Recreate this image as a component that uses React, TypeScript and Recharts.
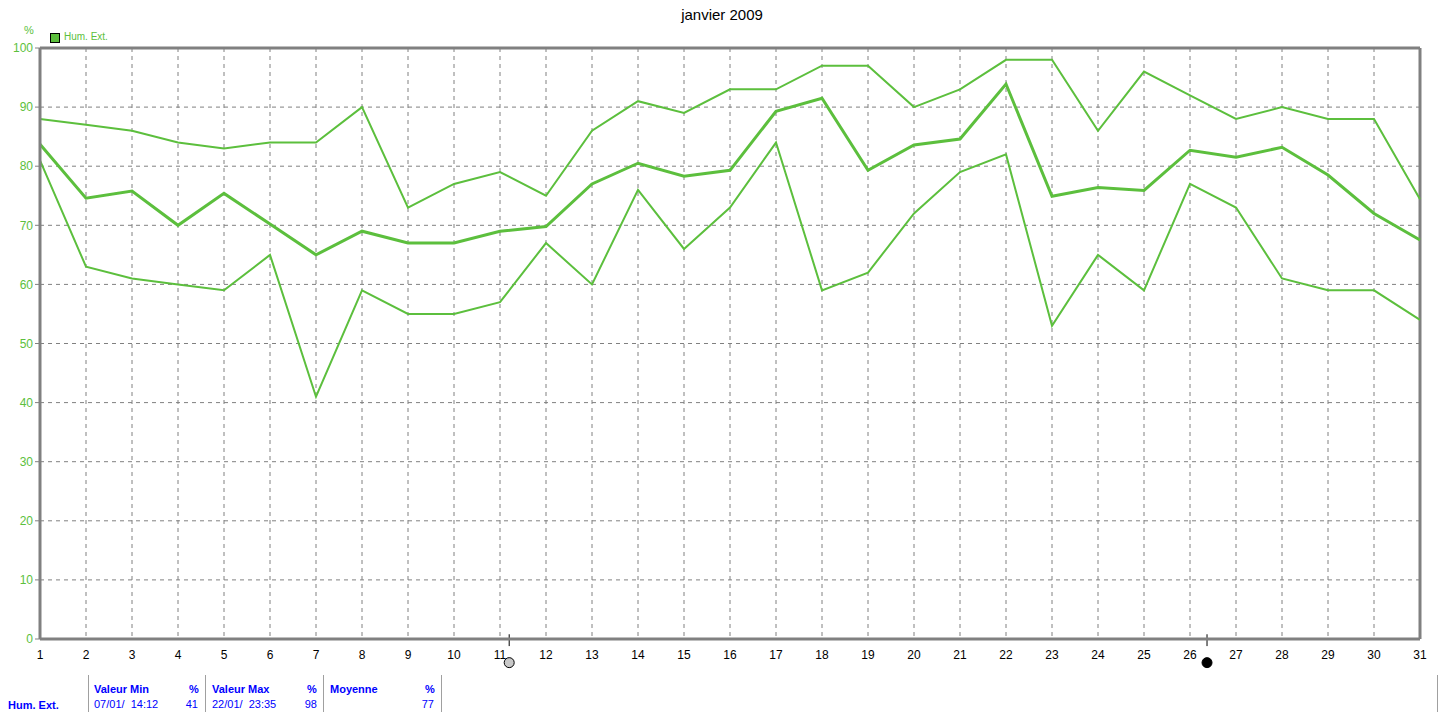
import { LineChart, Line, XAxis, YAxis, CartesianGrid, ReferenceLine, ReferenceDot } from 'recharts';

const days = [1, 2, 3, 4, 5, 6, 7, 8, 9, 10, 11, 12, 13, 14, 15, 16, 17, 18, 19, 20, 21, 22, 23, 24, 25, 26, 27, 28, 29, 30, 31];
const humMax = [88, 87, 86, 84, 83, 84, 84, 90, 73, 77, 79, 75, 86, 91, 89, 93, 93, 97, 97, 90, 93, 98, 98, 86, 96, 92, 88, 90, 88, 88, 74.4];
const humAvg = [83.7, 74.6, 75.8, 70, 75.4, 70.2, 65, 69, 67, 67, 69, 69.8, 77, 80.5, 78.3, 79.3, 89.3, 91.5, 79.3, 83.6, 84.6, 93.9, 74.9, 76.4, 75.9, 82.7, 81.5, 83.2, 78.5, 72, 67.5];
const humMin = [81, 63, 61, 60, 59, 65, 41, 59, 55, 55, 57, 67, 60, 76, 66, 73, 84, 59, 62, 72, 79, 82, 53, 65, 59, 77, 73, 61, 59, 59, 54];
const yTicks = [0, 10, 20, 30, 40, 50, 60, 70, 80, 90, 100];
const cursors = [11.2, 26.37];

const data = days.map((d, i) => ({ day: d, max: humMax[i], avg: humAvg[i], min: humMin[i] }));

const GREEN = '#5cbf3d';
const GRAY = '#808080';
const BLUE = '#0000ff';
const font = '"Liberation Sans", Arial, sans-serif';

const txt = (x: number, y: number, s: string, extra: any = {}) => (
  <div style={{ position: 'absolute', left: x, top: y, fontSize: 11, whiteSpace: 'pre', ...extra }}>{s}</div>
);

export default function App() {
  return (
    <div style={{ position: 'fixed', left: 0, top: 0, width: 1440, height: 712, background: '#fff', fontFamily: font, overflow: 'hidden' }}>
      {txt(0, 6, 'janvier 2009', { width: 1444, textAlign: 'center', fontSize: 15, color: '#000' })}
      {txt(24, 24, '%', { color: GREEN })}
      <div style={{ position: 'absolute', left: 50, top: 33, width: 8, height: 8, background: GREEN, border: '1px solid #000' }} />
      {txt(64, 31, 'Hum. Ext.', { color: GREEN, fontSize: 10 })}

      <LineChart width={1440} height={712} data={data} margin={{ top: 48, right: 20, left: 0, bottom: 53 }}
        style={{ position: 'absolute', left: 0, top: 0 }}>
        <CartesianGrid stroke={GRAY} strokeDasharray="4 4" horizontalValues={yTicks} verticalValues={days} />
        <XAxis dataKey="day" type="number" domain={[1, 31]} ticks={days} interval={0} height={20}
          axisLine={{ stroke: GRAY, strokeWidth: 3 }} tickLine={false}
          tick={{ fill: '#000', fontSize: 12, fontFamily: font }} tickMargin={5} />
        <YAxis type="number" domain={[0, 100]} ticks={yTicks} width={40}
          axisLine={{ stroke: GRAY, strokeWidth: 3 }} tickLine={{ stroke: GRAY }} tickSize={5}
          tick={{ fill: GREEN, fontSize: 12, fontFamily: font }} tickMargin={2} />
        <ReferenceLine y={100} stroke={GRAY} strokeWidth={3} />
        <ReferenceLine x={31} stroke={GRAY} strokeWidth={3} />
        <Line dataKey="max" stroke={GREEN} strokeWidth={2} dot={false} isAnimationActive={false} />
        <Line dataKey="min" stroke={GREEN} strokeWidth={2} dot={false} isAnimationActive={false} />
        <Line dataKey="avg" stroke={GREEN} strokeWidth={3} dot={false} isAnimationActive={false} />
        {cursors.map((c) => (
          <ReferenceLine key={'l' + c} ifOverflow="visible" stroke="#000" strokeWidth={1}
            segment={[{ x: c, y: -1.2 }, { x: c, y: 0.8 }]} />
        ))}
        <ReferenceDot x={cursors[0]} y={-4} r={5} ifOverflow="visible" fill="#c8c8c8" stroke="#000" strokeWidth={1} />
        <ReferenceDot x={cursors[1]} y={-4} r={5} ifOverflow="visible" fill="#000" stroke="#000" strokeWidth={1} />
      </LineChart>

      {[88, 205, 323, 441, 1437].map((x) => (
        <div key={x} style={{ position: 'absolute', left: x, top: 675, width: 1, height: 37, background: '#a0a0a0' }} />
      ))}
      {txt(94, 683, 'Valeur Min', { color: BLUE, fontWeight: 'bold' })}
      {txt(189, 683, '%', { color: BLUE, fontWeight: 'bold' })}
      {txt(212, 683, 'Valeur Max', { color: BLUE, fontWeight: 'bold' })}
      {txt(307, 683, '%', { color: BLUE, fontWeight: 'bold' })}
      {txt(330, 683, 'Moyenne', { color: BLUE, fontWeight: 'bold' })}
      {txt(425, 683, '%', { color: BLUE, fontWeight: 'bold' })}
      {txt(8, 699, 'Hum. Ext.', { color: BLUE, fontWeight: 'bold' })}
      {txt(94, 698, '07/01/  14:12', { color: BLUE })}
      {txt(160, 698, '41', { color: BLUE, width: 38, textAlign: 'right' })}
      {txt(212, 698, '22/01/  23:35', { color: BLUE })}
      {txt(280, 698, '98', { color: BLUE, width: 37, textAlign: 'right' })}
      {txt(400, 698, '77', { color: BLUE, width: 34, textAlign: 'right' })}
    </div>
  );
}
